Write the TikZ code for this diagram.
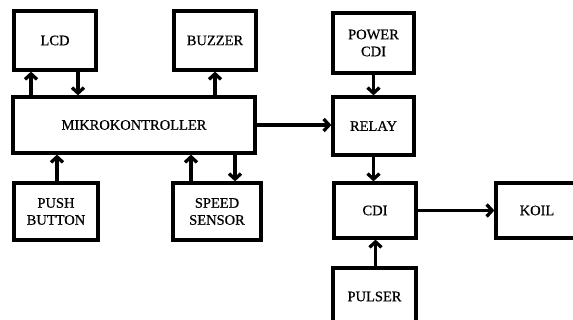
\documentclass[tikz,border=0pt]{standalone}
\usepackage{fontspec}
\setmainfont{Liberation Serif}
\newfontfamily\boxfont[FakeBold=0.6]{Liberation Serif}
\usetikzlibrary{arrows.meta}
\begin{document}
\begin{tikzpicture}[x=1pt,y=1pt,
  box/.style={draw, line width=3.3pt, inner sep=0pt, align=center,
    font=\boxfont\fontsize{14.5}{17}\selectfont, minimum width=82pt},
  arr/.style={line width=3.3pt, -{Straight Barb[length=5.5pt,width=12pt]}}]
\useasboundingbox (0,0) rectangle (573,320);
\node[box, minimum height=59pt] (lcd) at (55,279.5) {LCD};
\node[box, minimum height=59pt] (buz) at (215,279.5) {BUZZER};
\node[box, minimum width=242pt, minimum height=56pt] (mk) at (134,195) {MIKROKONTROLLER};
\node[box, minimum width=84pt, minimum height=57pt] (pb) at (56,108.5) {PUSH\\BUTTON};
\node[box, minimum width=88pt, minimum height=57pt] (ss) at (217,108.5) {SPEED\\SENSOR};
\node[box, minimum width=81pt, minimum height=60pt] (pc) at (373.5,277) {POWER\\CDI};
\node[box, minimum width=81pt, minimum height=58pt] (rl) at (373.5,194) {RELAY};
\node[box, minimum height=55pt] (cdi) at (375,109.5) {CDI};
\node[box, minimum height=55pt] (koil) at (537,109.5) {KOIL};
\node[box, minimum width=83pt, minimum height=57pt] (pul) at (374.5,23.5) {PULSER};
% arrows
\draw[arr] ([xshift=-24pt]lcd.south |- mk.north) -- ([xshift=-24pt]lcd.south);
\draw[arr] ([xshift=23pt]lcd.south) -- ([xshift=23pt]lcd.south |- mk.north);
\draw[arr] (buz.south |- mk.north) -- (buz.south);
\draw[arr] ([xshift=1pt]pb.north) -- ([xshift=1pt]pb.north |- mk.south);
\draw[arr] ([xshift=-26pt]ss.north) -- ([xshift=-26pt]ss.north |- mk.south);
\draw[arr] ([xshift=18pt]ss.north |- mk.south) -- ([xshift=18pt]ss.north);
\draw[arr] (mk.east) -- (mk.east -| rl.west);
\draw[arr] (pc.south) -- (rl.north);
\draw[arr] (rl.south) -- (rl.south |- cdi.north);
\draw[arr] (cdi.east) -- (koil.west);
\draw[arr] ([xshift=1pt]pul.north) -- ([xshift=1pt]pul.north |- cdi.south);
\end{tikzpicture}
\end{document}
